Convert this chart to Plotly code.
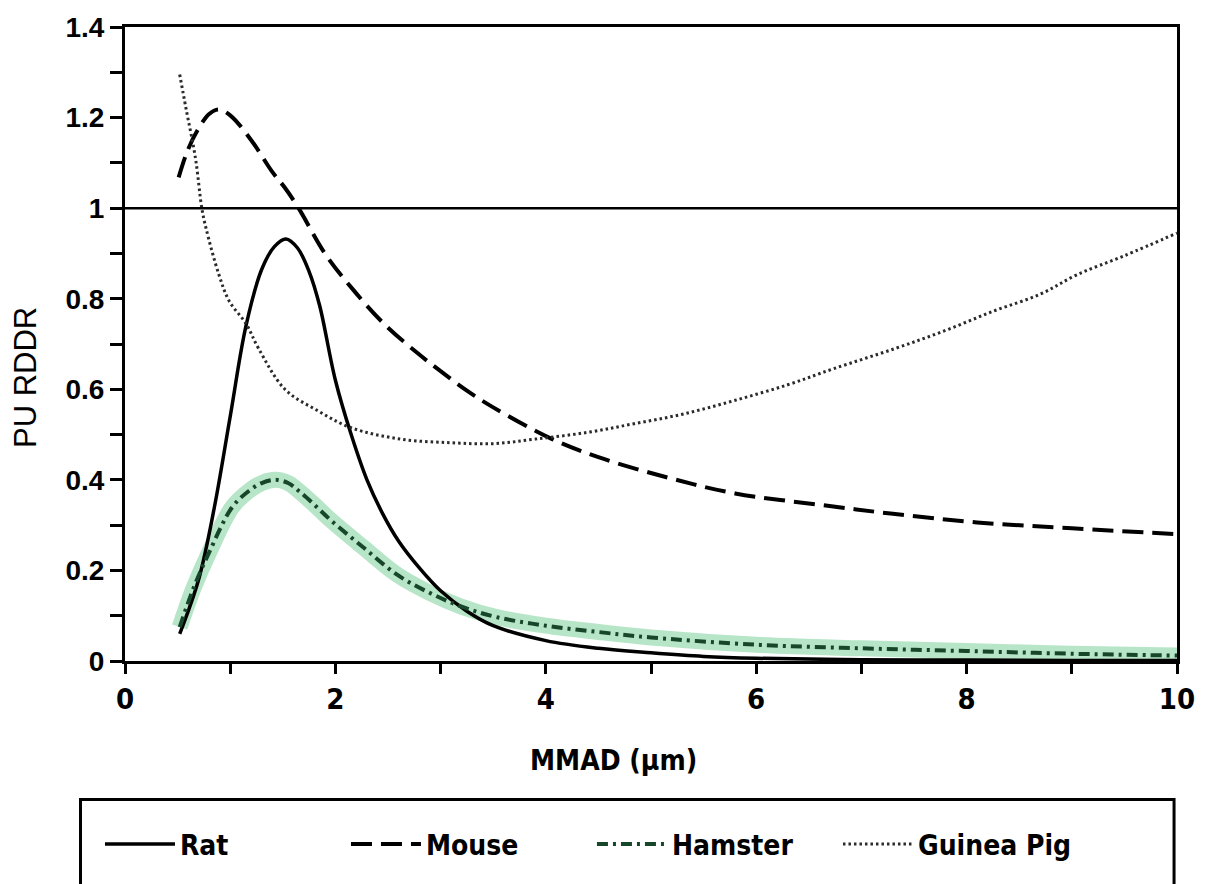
import plotly.graph_objects as go

# ---- data ----
rat_x = [0.52, 0.7, 0.85, 1.0, 1.15, 1.3, 1.42, 1.53, 1.64, 1.75, 1.85, 2.0, 2.15, 2.3, 2.45, 2.6,
         2.8, 3.0, 3.25, 3.5, 4.0, 4.5, 5.0, 5.5, 6.0, 7.0, 8.0, 9.0, 10.0]
rat_y = [0.06, 0.18, 0.34, 0.54, 0.74, 0.865, 0.915, 0.932, 0.912, 0.86, 0.785, 0.62, 0.50, 0.40, 0.325,
         0.265, 0.205, 0.155, 0.11, 0.078, 0.045, 0.028, 0.018, 0.01, 0.006, 0.003, 0.002, 0.001, 0.001]

mouse_x = [0.51, 0.6, 0.7, 0.8, 0.89, 1.0, 1.2, 1.4, 1.52, 1.65, 1.9, 2.15, 2.46, 2.78, 3.0, 3.25, 3.5, 4.06,
           4.5, 5.16, 5.8, 6.6, 7.3, 8.1, 9.0, 10.0]
mouse_y = [1.068, 1.13, 1.176, 1.208, 1.218, 1.205, 1.15, 1.08, 1.045, 1.0, 0.90, 0.825, 0.745, 0.68, 0.64,
           0.597, 0.56, 0.49, 0.45, 0.405, 0.37, 0.345, 0.325, 0.306, 0.293, 0.28]

hamster_x = [0.52, 0.65, 0.8, 1.02, 1.18, 1.3, 1.43, 1.55, 1.65, 1.8, 1.96, 2.27, 2.59, 2.9, 3.2, 3.53, 4.0,
             4.5, 5.0, 6.0, 7.0, 8.0, 9.0, 10.0]
hamster_y = [0.075, 0.16, 0.24, 0.34, 0.376, 0.393, 0.40, 0.393, 0.376, 0.345, 0.31, 0.25, 0.19, 0.15, 0.12,
             0.097, 0.078, 0.064, 0.052, 0.036, 0.028, 0.022, 0.016, 0.012]

gp_x = [0.52, 0.58, 0.67, 0.73, 0.77, 0.89, 0.99, 1.15, 1.27, 1.52, 1.83, 2.15, 2.62, 3.09, 3.5, 3.9, 4.4,
        4.84, 5.3, 5.79, 6.3, 6.73, 7.32, 7.8, 8.26, 8.7, 9.05, 9.5, 10.0]
gp_y = [1.295, 1.22, 1.11, 1.0, 0.956, 0.855, 0.795, 0.745, 0.69, 0.60, 0.553, 0.515, 0.49, 0.482, 0.48, 0.49,
        0.505, 0.524, 0.545, 0.575, 0.61, 0.645, 0.69, 0.73, 0.773, 0.81, 0.853, 0.895, 0.945]

names = ["Rat", "Mouse", "Hamster", "Guinea Pig"]
x_ticks = [0, 2, 4, 6, 8, 10]
y_ticks = [0, 0.2, 0.4, 0.6, 0.8, 1, 1.2, 1.4]
y_tick_text = ["0", "0.2", "0.4", "0.6", "0.8", "1", "1.2", "1.4"]

NARROW = "Liberation Sans Narrow, DejaVu Sans Condensed, sans-serif"
SANS = "Liberation Sans, Arial, sans-serif"

# ---- figure ----
fig = go.Figure()

# hamster glow (underlay)
fig.add_trace(go.Scatter(x=hamster_x, y=hamster_y, mode="lines", showlegend=False, hoverinfo="skip",
                         line=dict(color="rgba(165,222,185,0.8)", width=16, shape="spline", smoothing=1.0)))

fig.add_trace(go.Scatter(x=rat_x, y=rat_y, mode="lines", name=names[0],
                         line=dict(color="black", width=3.5, shape="spline", smoothing=1.0)))
fig.add_trace(go.Scatter(x=mouse_x, y=mouse_y, mode="lines", name=names[1],
                         line=dict(color="black", width=4, dash="21px,9px", shape="spline", smoothing=1.0)))
fig.add_trace(go.Scatter(x=hamster_x, y=hamster_y, mode="lines", name=names[2],
                         line=dict(color="#17472a", width=4, dash="11px,5px,3px,5px", shape="spline",
                                   smoothing=1.0)))
fig.add_trace(go.Scatter(x=gp_x, y=gp_y, mode="lines", name=names[3],
                         line=dict(color="#2a2a2a", width=3, dash="2.5px,3px", shape="spline", smoothing=1.0)))

# reference line at 1
fig.add_shape(type="line", xref="paper", x0=0, x1=1, yref="y", y0=1, y1=1,
              line=dict(color="black", width=2.5))

# legend frame (extends past the bottom of the picture)
fig.add_shape(type="rect", xref="paper", yref="paper", x0=-0.0423, x1=0.9972, y0=-0.40, y1=-0.2186,
              line=dict(color="black", width=3), fillcolor="rgba(0,0,0,0)")

tickfont_y = dict(family=SANS, size=28, color="black", weight="bold")
tickfont_x = dict(family=NARROW, size=29, color="black", weight="bold")

fig.update_xaxes(range=[0, 10], tickvals=x_ticks, ticks="outside", ticklen=10, tickwidth=3,
                 tickcolor="black", showline=True, linecolor="black", linewidth=3, mirror=True,
                 showgrid=False, zeroline=False, tickfont=tickfont_x,
                 minor=dict(dtick=1, ticks="outside", ticklen=10, tickwidth=3, tickcolor="black"))
fig.update_yaxes(range=[0, 1.4], tickvals=y_ticks, ticktext=y_tick_text, ticks="outside", ticklen=12,
                 tickwidth=3, tickcolor="black", showline=True, linecolor="black", linewidth=3, mirror=True,
                 showgrid=False, zeroline=False, tickfont=tickfont_y,
                 minor=dict(dtick=0.1, ticks="outside", ticklen=12, tickwidth=3, tickcolor="black"))

fig.add_annotation(text="MMAD (µm)", xref="paper", yref="paper", x=0.4647, y=-0.157, showarrow=False,
                   xanchor="center", yanchor="middle",
                   font=dict(family=NARROW, size=28, color="black", weight="bold"))
fig.add_annotation(text="PU RDDR", xref="paper", yref="paper", x=-0.094, y=0.4465, showarrow=False,
                   textangle=-90, xanchor="center", yanchor="middle",
                   font=dict(family=SANS, size=31, color="black"))

fig.update_layout(
    width=1207, height=884,
    margin=dict(l=125, r=19, t=25, b=223),
    paper_bgcolor="white", plot_bgcolor="white",
    legend=dict(orientation="h", x=-0.0238, y=-0.289, xanchor="left", yanchor="middle",
                bgcolor="rgba(0,0,0,0)", borderwidth=0, entrywidth=161, entrywidthmode="pixels",
                itemwidth=70,
                font=dict(family=NARROW, size=28, color="black", weight="bold")),
    showlegend=True,
)

fig.write_html("out.html")
